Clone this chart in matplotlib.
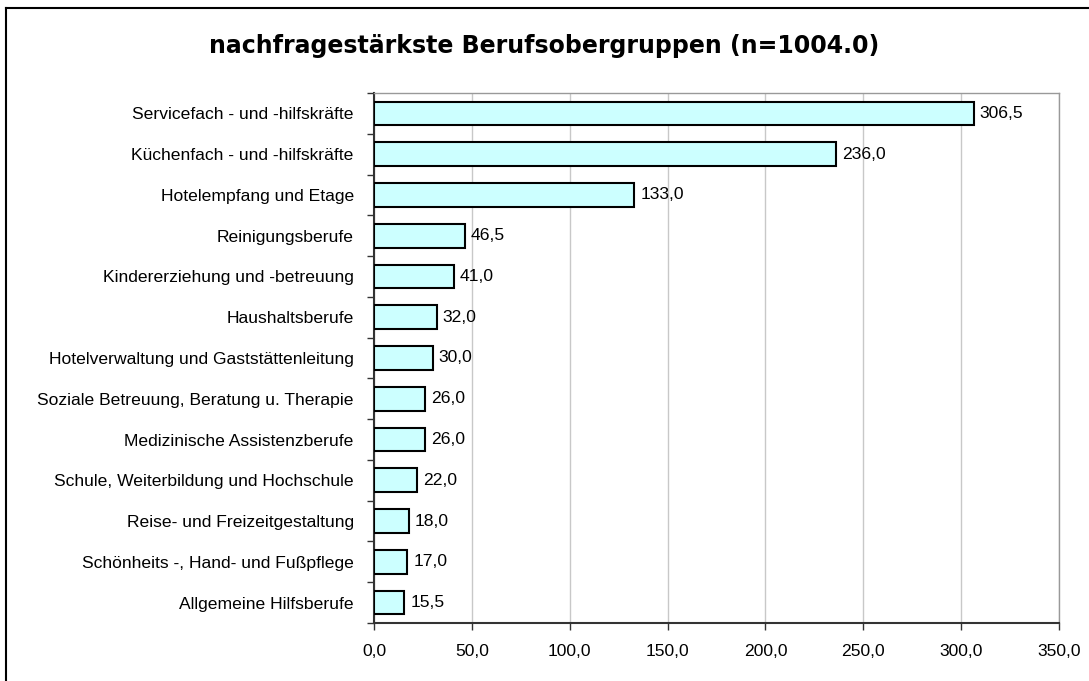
import matplotlib
matplotlib.use("Agg")
import matplotlib.pyplot as plt
from matplotlib.lines import Line2D

categories = [
    "Servicefach - und -hilfskräfte",
    "Küchenfach - und -hilfskräfte",
    "Hotelempfang und Etage",
    "Reinigungsberufe",
    "Kindererziehung und -betreuung",
    "Haushaltsberufe",
    "Hotelverwaltung und Gaststättenleitung",
    "Soziale Betreuung, Beratung u. Therapie",
    "Medizinische Assistenzberufe",
    "Schule, Weiterbildung und Hochschule",
    "Reise- und Freizeitgestaltung",
    "Schönheits -, Hand- und Fußpflege",
    "Allgemeine Hilfsberufe",
]
values = [306.5, 236.0, 133.0, 46.5, 41.0, 32.0, 30.0, 26.0, 26.0, 22.0, 18.0, 17.0, 15.5]
xticks = [0, 50, 100, 150, 200, 250, 300, 350]
title = "nachfragestärkste Berufsobergruppen (n=1004.0)"

def de(v):
    return f"{v:.1f}".replace(".", ",")

W, H = 1089, 681
FS = 12.6
fig = plt.figure(figsize=(W / 100, H / 100), dpi=100)
ax = fig.add_axes([374 / W, 1 - 623 / H, (1059 - 374) / W, (623 - 93) / H])

n = len(categories)
ypos = list(range(n))
ax.barh(ypos, values, height=0.58, color="#CCFFFF", edgecolor="black", linewidth=1.5, zorder=3)
ax.set_ylim(n - 0.5, -0.5)
ax.set_xlim(0, 350)

ax.set_yticks(ypos)
ax.set_yticklabels(categories, fontsize=FS, family="Liberation Sans")
ax.tick_params(axis="y", length=0, pad=14.5)
ax.set_yticks([i - 0.5 for i in range(n + 1)], minor=True)
ax.tick_params(axis="y", which="minor", length=5, width=1, color="#333333")

ax.set_xticks(xticks)
ax.set_xticklabels([de(t) for t in xticks], fontsize=FS, family="Liberation Sans")
ax.tick_params(axis="x", length=5, width=1, color="#333333", pad=10)
ax.grid(axis="x", color="#C8C8C8", linewidth=1, zorder=0)

for s in ["left", "bottom"]:
    ax.spines[s].set_color("#333333")
    ax.spines[s].set_linewidth(1.5)
for s in ["top", "right"]:
    ax.spines[s].set_color("#999999")
    ax.spines[s].set_linewidth(1)

for y, v in zip(ypos, values):
    ax.text(v + 3, y, de(v), va="center", ha="left", fontsize=FS, family="Liberation Sans", zorder=4)

fig.text(0.5, 1 - 46 / H, title, ha="center", va="center", fontsize=17, fontweight="bold", family="DejaVu Sans")

fig.lines.append(Line2D([6 / W, 1], [1 - 8 / H, 1 - 8 / H], transform=fig.transFigure, color="black", linewidth=1.5))
fig.lines.append(Line2D([6 / W, 6 / W], [0, 1 - 8 / H], transform=fig.transFigure, color="black", linewidth=1.5))

fig.savefig("out.png", dpi=100)
